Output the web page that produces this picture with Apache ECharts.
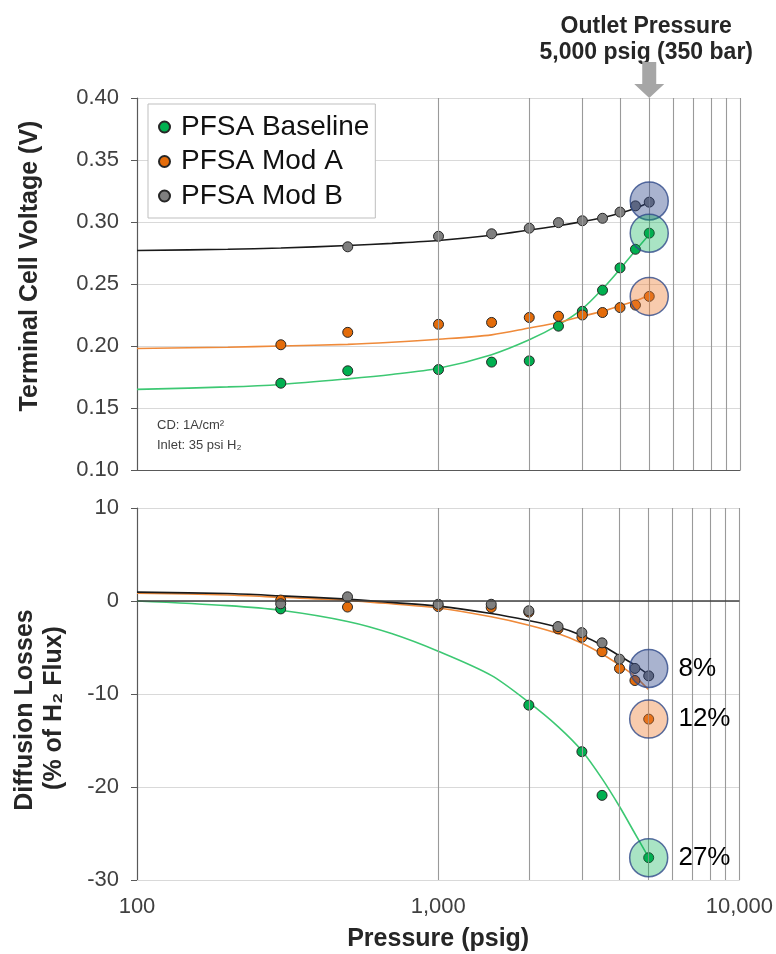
<!DOCTYPE html>
<html>
<head>
<meta charset="utf-8">
<title>PFSA membranes vs outlet pressure</title>
<script src="https://cdn.jsdelivr.net/npm/echarts@6/dist/echarts.min.js"></script>
</head>
<body style="margin:0; overflow:hidden; background:#fff;">
<div id="main" style="width:776px;height:954px;"></div>
<script type="text/javascript">
// ---- data ----
// pressures (psig) of the measured points
var pressV = [300, 500, 1000, 1500, 2000, 2500, 3000, 3500, 4000, 4500, 5000];
var pressVB = [500, 1000, 1500, 2000, 2500, 3000, 3500, 4000, 4500, 5000];
var pressLBase = [300, 2000, 3000, 3500, 5000];
var pressL = [300, 500, 1000, 1500, 2000, 2500, 3000, 3500, 4000, 4500, 5000];

// terminal cell voltage (V)
var baselineV = [0.170, 0.180, 0.181, 0.187, 0.188, 0.216, 0.228, 0.245, 0.263, 0.278, 0.291];
var modAV = [0.201, 0.211, 0.2175, 0.219, 0.223, 0.224, 0.225, 0.227, 0.231, 0.233, 0.240];
var modBV = [0.280, 0.2885, 0.2905, 0.295, 0.2995, 0.301, 0.303, 0.308, 0.313, 0.316];

// diffusion losses (% of H2 flux)
var baselineL = [-0.85, -11.2, -16.2, -20.9, -27.6];
var modAL = [0.1, -0.65, -0.6, -0.7, -1.2, -3.0, -3.9, -5.45, -7.25, -8.55, -12.7];
var modBL = [-0.3, 0.45, -0.35, -0.35, -1.05, -2.75, -3.4, -4.5, -6.25, -7.25, -8.05];

// trend lines, read at these pressures
var fitP = [100, 200, 300, 500, 700, 1000, 1500, 2000, 2500, 3000, 3500, 4000, 4500, 5000];
var baselineFitV = [0.165, 0.167, 0.169, 0.1735, 0.177, 0.182, 0.193, 0.205, 0.217, 0.230, 0.246, 0.262, 0.277, 0.290];
var modAFitV = [0.198, 0.199, 0.200, 0.2013, 0.203, 0.2054, 0.209, 0.2145, 0.219, 0.224, 0.228, 0.2325, 0.2365, 0.241];
var modBFitV = [0.277, 0.278, 0.279, 0.281, 0.2828, 0.2851, 0.2893, 0.2935, 0.297, 0.3003, 0.3035, 0.307, 0.311, 0.316];
var baselineFitL = [0.0, -0.5, -1.0, -2.2, -3.5, -5.4, -8.0, -10.9, -13.5, -16.1, -19.1, -22.1, -25.0, -27.6];
var modAFitL = [0.85, 0.65, 0.4, 0.07, -0.3, -0.75, -1.7, -2.6, -3.5, -4.55, -5.7, -6.9, -8.1, -9.55];
var modBFitL = [0.95, 0.8, 0.55, 0.2, -0.15, -0.55, -1.35, -2.1, -2.8, -3.7, -4.75, -5.9, -6.9, -7.95];

// highlighted values at the outlet pressure
var outletP = 5000;
var highlightV = [0.317, 0.291, 0.240];   // Mod B, Baseline, Mod A
var highlightL = [-7.25, -12.7, -27.6];   // Mod B, Mod A, Baseline
var highlightLabels = ['8%', '12%', '27%'];

// vertical grid lines and axis ticks
var gridP = [1000, 2000, 3000, 4000, 5000, 6000, 7000, 8000, 9000, 10000];
var voltTicks = [0.10, 0.15, 0.20, 0.25, 0.30, 0.35, 0.40];
var lossTicks = [-30, -20, -10, 0, 10];

var seriesNames = ['PFSA Baseline', 'PFSA Mod A', 'PFSA Mod B'];

// ---- chart ----
var FONT = '"Liberation Sans", Arial, sans-serif';
var GREEN = '#00b050', ORANGE = '#e46c0a', GRAY = '#7f7f7f';
var BLUE_FILL = 'rgba(40, 66, 135, 0.5)';
var GREEN_FILL = 'rgba(0, 176, 80, 0.42)';
var ORANGE_FILL = 'rgba(237, 125, 49, 0.5)';
var RING = '#2f4a8a';

function zip(xs, ys) {
	return xs.map(function (x, i) { return [x, ys[i]]; });
}

function pointSeries(name, color, xs, ys, idx) {
	return {
		name: name, type: 'scatter', xAxisIndex: idx, yAxisIndex: idx,
		data: zip(xs, ys), symbolSize: 10, z: 4,
		itemStyle: { color: color, borderColor: '#262626', borderWidth: 1, opacity: 1 }
	};
}

function fitSeries(color, ys, idx) {
	return {
		name: 'fit', type: 'line', xAxisIndex: idx, yAxisIndex: idx,
		data: zip(fitP, ys), showSymbol: false, smooth: 0.3, z: 3,
		lineStyle: { color: color, width: 1.6 }, silent: true
	};
}

function circleSeries(ys, fills, idx, labels) {
	return {
		name: 'outlet', type: 'scatter', xAxisIndex: idx, yAxisIndex: idx, z: 5,
		symbolSize: 38, silent: true,
		data: ys.map(function (y, i) {
			return { value: [outletP, y], itemStyle: { color: fills[i] } };
		}),
		itemStyle: { borderColor: RING, borderWidth: 1.5 },
		label: labels ? {
			show: true, position: 'right', distance: 10,
			formatter: function (p) { return labels[p.dataIndex]; },
			fontSize: 26, color: '#000', opacity: 1, fontFamily: FONT
		} : { show: false }
	};
}

function gridLineSeries(idx) {
	return {
		name: 'grid', type: 'line', xAxisIndex: idx, yAxisIndex: idx, data: [], z: 1, silent: true,
		markLine: {
			symbol: 'none', silent: true, label: { show: false }, animation: false,
			lineStyle: { color: '#9a9a9a', width: 1.1, type: 'solid' },
			data: gridP.map(function (p) { return { xAxis: p }; })
		}
	};
}

function yAxisBase(idx, min, max, interval, digits) {
	return {
		type: 'value', gridIndex: idx, min: min, max: max, interval: interval,
		axisLine: { show: true, lineStyle: { color: '#595959', width: 1.2 } },
		axisTick: { show: true, length: 6, lineStyle: { color: '#595959' } },
		axisLabel: {
			fontSize: 22, color: '#404040', margin: 18, fontFamily: FONT,
			formatter: function (v) { return v.toFixed(digits); }
		},
		splitLine: { show: true, lineStyle: { color: '#d9d9d9', width: 1 } }
	};
}

var myChart = echarts.init(document.getElementById('main'));

var option = {
	animation: false,
	backgroundColor: '#fff',
	textStyle: { fontFamily: FONT },
	grid: [
		{ left: 137, right: 36, top: 98, height: 372 },
		{ left: 137, right: 36, top: 508, height: 372 }
	],
	legend: {
		data: seriesNames,
		orient: 'vertical',
		left: 148, top: 104,
		padding: [9, 6, 8, 10],
		itemGap: 6.5,
		itemWidth: 11, itemHeight: 11,
		icon: 'circle',
		backgroundColor: '#fff',
		borderColor: '#bfbfbf', borderWidth: 1,
		textStyle: { fontSize: 28, color: '#111', lineHeight: 28, padding: [0, 0, 0, 6], fontFamily: FONT }
	},
	xAxis: [
		{
			type: 'log', logBase: 10, gridIndex: 0, min: 100, max: 10000,
			axisLine: { onZero: false, lineStyle: { color: '#595959', width: 1.2 } },
			axisTick: { show: false }, axisLabel: { show: false },
			splitLine: { show: false }
		},
		{
			type: 'log', logBase: 10, gridIndex: 1, min: 100, max: 10000,
			axisLine: { onZero: false, lineStyle: { color: '#d9d9d9', width: 1 } },
			axisTick: { show: false },
			axisLabel: {
				fontSize: 22, color: '#404040', margin: 16, fontFamily: FONT,
				formatter: function (v) { return Number(v).toLocaleString('en-US'); }
			},
			splitLine: { show: false },
			name: 'Pressure (psig)', nameLocation: 'middle', nameGap: 47,
			nameTextStyle: { fontSize: 25, fontWeight: 'bold', color: '#262626', fontFamily: FONT }
		}
	],
	yAxis: [
		yAxisBase(0, voltTicks[0], voltTicks[voltTicks.length - 1], 0.05, 2),
		yAxisBase(1, lossTicks[0], lossTicks[lossTicks.length - 1], 10, 0)
	],
	series: [
		gridLineSeries(0),
		fitSeries('#3dc873', baselineFitV, 0),
		fitSeries('#ef8a3a', modAFitV, 0),
		fitSeries('#1a1a1a', modBFitV, 0),
		pointSeries(seriesNames[0], GREEN, pressV, baselineV, 0),
		pointSeries(seriesNames[1], ORANGE, pressV, modAV, 0),
		pointSeries(seriesNames[2], GRAY, pressVB, modBV, 0),
		circleSeries(highlightV, [BLUE_FILL, GREEN_FILL, ORANGE_FILL], 0, null),

		(function () {
			var s = gridLineSeries(1);
			s.markLine.data.push({ yAxis: 0, lineStyle: { color: '#404040', width: 1.5 } });
			return s;
		})(),
		fitSeries('#3dc873', baselineFitL, 1),
		fitSeries('#ef8a3a', modAFitL, 1),
		fitSeries('#1a1a1a', modBFitL, 1),
		pointSeries(seriesNames[0], GREEN, pressLBase, baselineL, 1),
		pointSeries(seriesNames[1], ORANGE, pressL, modAL, 1),
		pointSeries(seriesNames[2], GRAY, pressL, modBL, 1),
		circleSeries(highlightL, [BLUE_FILL, ORANGE_FILL, GREEN_FILL], 1, highlightLabels)
	]
};
myChart.setOption(option);

// annotations: axis titles, test conditions, outlet pressure arrow
var ax = myChart.convertToPixel({ xAxisIndex: 0 }, outletP);
var topY = myChart.convertToPixel({ yAxisIndex: 0 }, voltTicks[voltTicks.length - 1]);
var noteY = myChart.convertToPixel({ yAxisIndex: 0 }, 0.13);

myChart.setOption({
	graphic: [
		{
			type: 'text', x: 30, y: 266, rotation: Math.PI / 2,
			style: { text: 'Terminal Cell Voltage (V)', fontSize: 25, fontWeight: 'bold', fontFamily: FONT,
				fill: '#262626', align: 'center', verticalAlign: 'middle' }
		},
		{
			type: 'text', x: 25, y: 710, rotation: Math.PI / 2,
			style: { text: 'Diffusion Losses', fontSize: 25, fontWeight: 'bold', fontFamily: FONT,
				fill: '#262626', align: 'center', verticalAlign: 'middle' }
		},
		{
			type: 'text', x: 54, y: 708, rotation: Math.PI / 2,
			style: { text: '(% of H\u2082 Flux)', fontSize: 25, fontWeight: 'bold', fontFamily: FONT,
				fill: '#262626', align: 'center', verticalAlign: 'middle' }
		},
		{
			type: 'text', x: 157, y: noteY - 7,
			style: { text: 'CD: 1A/cm\u00b2', fontSize: 13, fontFamily: FONT, fill: '#404040',
				align: 'left', verticalAlign: 'middle' }
		},
		{
			type: 'text', x: 157, y: noteY + 13,
			style: { text: 'Inlet: 35 psi H\u2082', fontSize: 13, fontFamily: FONT, fill: '#404040',
				align: 'left', verticalAlign: 'middle' }
		},
		{
			type: 'text', x: ax - 3, y: 27,
			style: { text: 'Outlet Pressure', fontSize: 23, fontWeight: 'bold', fontFamily: FONT,
				fill: '#262626', align: 'center', verticalAlign: 'middle' }
		},
		{
			type: 'text', x: ax - 3, y: 53,
			style: { text: '5,000 psig (350 bar)', fontSize: 23, fontWeight: 'bold', fontFamily: FONT,
				fill: '#262626', align: 'center', verticalAlign: 'middle' }
		},
		{
			type: 'polygon', z: 10,
			shape: { points: [
				[ax - 7, 62], [ax + 7, 62], [ax + 7, topY - 14], [ax + 15, topY - 14],
				[ax, topY], [ax - 15, topY - 14], [ax - 7, topY - 14]
			] },
			style: { fill: '#a6a6a6' }
		}
	]
});
</script>
</body>
</html>
